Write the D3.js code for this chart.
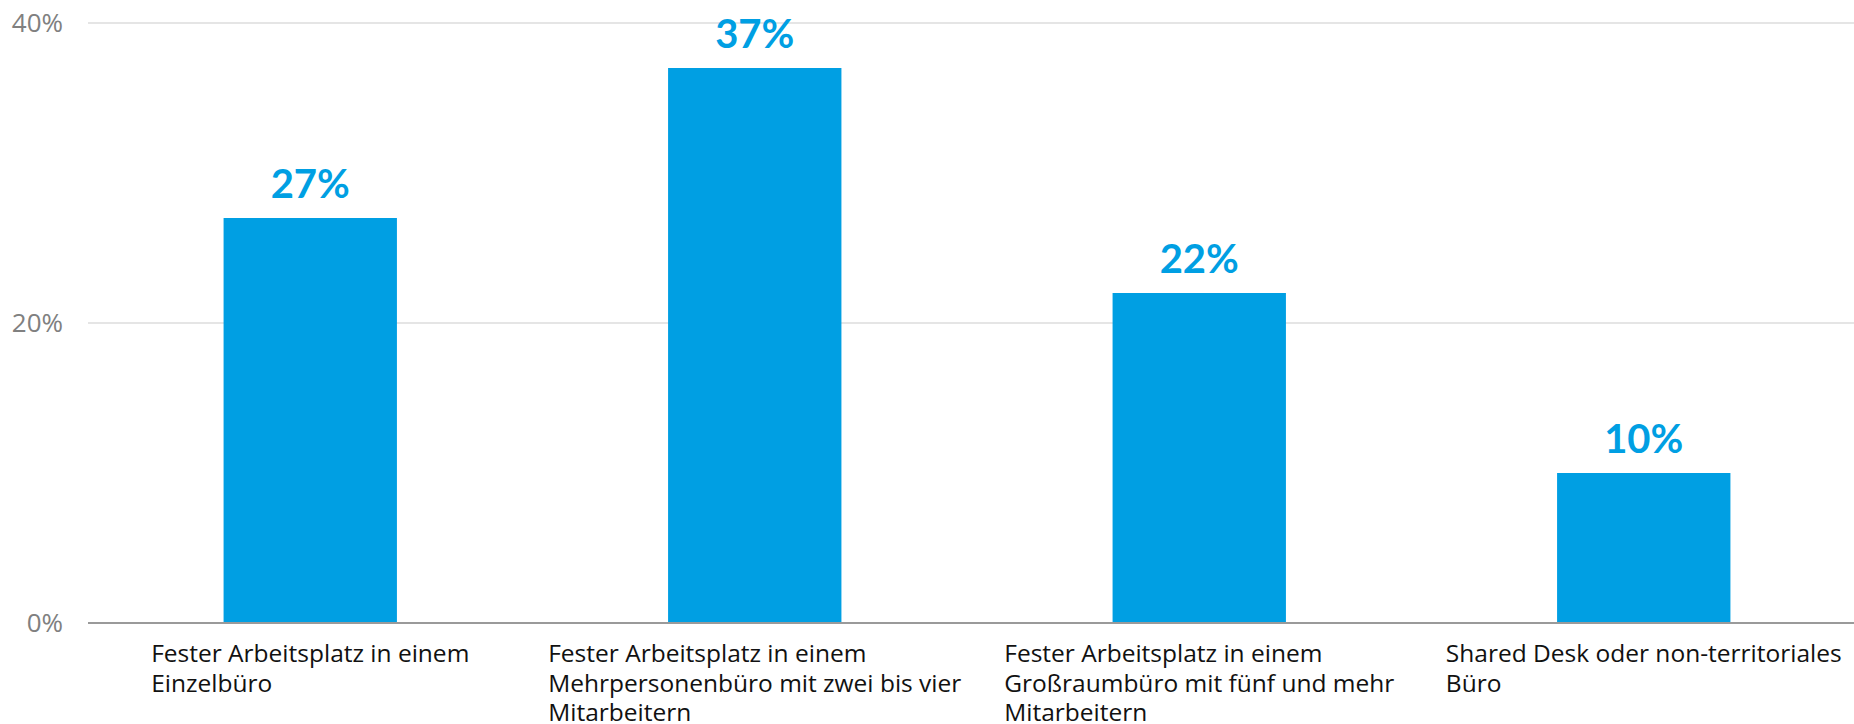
<!DOCTYPE html>
<html>
<head>
<meta charset="utf-8">
<script src="https://cdn.jsdelivr.net/npm/d3@7"></script>
<style>
  body { margin: 0; background: #fff; }
  svg { display: block; font-family: "Open Sans", Lato, sans-serif; }
</style>
</head>
<body>
<div id="chart"></div>
<script>
const width = 1854;
const height = 724;

const categories = [
    ["Fester Arbeitsplatz in einem", "Einzelbüro"],
    ["Fester Arbeitsplatz in einem", "Mehrpersonenbüro mit zwei bis vier", "Mitarbeitern"],
    ["Fester Arbeitsplatz in einem", "Großraumbüro mit fünf und mehr", "Mitarbeitern"],
    ["Shared Desk oder non-territoriales", "Büro"]
];
const values = [27, 37, 22, 10];
const yTicks = [0, 20, 40];

const blue = "#009fe3";

const svg = d3.select("#chart")
    .append("svg")
    .attr("width", width)
    .attr("height", height);

const x = d3.scaleBand()
    .domain(d3.range(values.length))
    .range([88, 1866])
    .paddingInner(0.61)
    .paddingOuter(0.305);

const y = d3.scaleLinear()
    .domain([0, 40])
    .range([623, 23]);

// gridlines
svg.selectAll("line.grid")
    .data(yTicks.filter(d => d > 0))
    .enter()
    .append("line")
    .attr("class", "grid")
    .attr("x1", 88)
    .attr("x2", width)
    .attr("y1", d => y(d))
    .attr("y2", d => y(d))
    .attr("stroke", "#dcdcdc")
    .attr("stroke-width", 1.5);

// y tick labels
svg.selectAll("text.ytick")
    .data(yTicks)
    .enter()
    .append("text")
    .attr("class", "ytick")
    .attr("x", 63)
    .attr("y", d => y(d))
    .attr("dy", "0.35em")
    .attr("text-anchor", "end")
    .attr("fill", "#808080")
    .style("font-size", "26px")
    .text(d => d + "%");

// bars
svg.selectAll("rect.bar")
    .data(values)
    .enter()
    .append("rect")
    .attr("class", "bar")
    .attr("x", (d, i) => x(i))
    .attr("y", d => y(d))
    .attr("width", x.bandwidth())
    .attr("height", d => y(0) - y(d))
    .attr("fill", blue);

// baseline
svg.append("line")
    .attr("x1", 88)
    .attr("x2", width)
    .attr("y1", y(0))
    .attr("y2", y(0))
    .attr("stroke", "#9a9a9a")
    .attr("stroke-width", 2);

// value labels
svg.selectAll("text.val")
    .data(values)
    .enter()
    .append("text")
    .attr("class", "val")
    .attr("x", (d, i) => x(i) + x.bandwidth() / 2)
    .attr("y", d => y(d) - 20)
    .attr("text-anchor", "middle")
    .attr("fill", blue)
    .style("font-family", "Lato, sans-serif")
    .style("font-size", "40px")
    .style("font-weight", 700)
    .text(d => d + "%");

// category labels: block of left-aligned lines, centred under the bar
categories.forEach(function (lines, i) {
    const g = svg.append("g");
    const t = g.append("text")
        .attr("fill", "#111")
        .style("font-size", "24.5px");
    lines.forEach(function (line, j) {
        t.append("tspan")
            .attr("x", 0)
            .attr("y", 662 + j * 29.5)
            .text(line);
    });
    const w = d3.max(t.selectAll("tspan").nodes(), n => n.getComputedTextLength());
    const cx = x(i) + x.bandwidth() / 2;
    g.attr("transform", "translate(" + (cx - w / 2) + ",0)");
});
</script>
</body>
</html>
